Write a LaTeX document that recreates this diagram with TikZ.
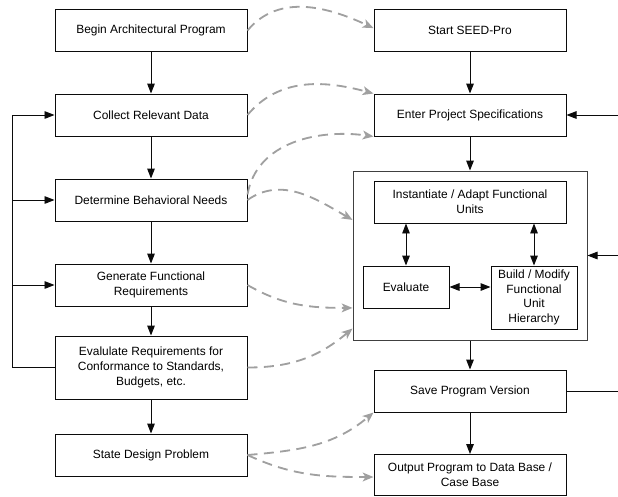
\documentclass[tikz,border=0pt]{standalone}
\usepackage{fontspec}
\setmainfont{Liberation Sans}
\usetikzlibrary{positioning,calc,arrows.meta}
\definecolor{cgray}{HTML}{A0A0A0}
\definecolor{cink}{HTML}{0B0B0B}

\begin{document}
\begin{tikzpicture}[x=0.25mm,y=0.25mm,
    box/.style={draw=cink,line width=0.7pt,minimum width=48mm,minimum height=10.5mm,
      align=center,inner sep=1pt,font=\fontsize{8.5}{10.4}\selectfont},
    tallbox/.style={box,minimum height=15.75mm},
    smallbox/.style={box,minimum width=21.5mm},
    flow/.style={-{Triangle[length=2.5mm,width=1.9mm]},cink,line width=0.7pt},
    both/.style={{Triangle[length=2.5mm,width=1.9mm]}-{Triangle[length=2.5mm,width=1.9mm]},cink,line width=0.7pt},
    link/.style={-{Stealth[length=2.7mm,width=2.2mm,inset=0.7mm]},cgray,line width=1.3pt,
      dash pattern=on 2.5mm off 1.6mm}]
        \useasboundingbox (0,0) rectangle (618,-496);
        % left column: the architect's process
        \node[box] (begin) at (151,-30.5) {Begin Architectural Program};
        \node[box] (collect) at (151,-115) {Collect Relevant Data};
        \node[box] (determine) at (151,-200) {Determine Behavioral Needs};
        \node[box] (generate) at (151,-285) {Generate Functional\\Requirements};
        \node[tallbox] (evalreq) at (151,-367.5) {Evalulate Requirements for\\Conformance to Standards,\\Budgets, etc.};
        \node[box] (state) at (151,-455) {State Design Problem};
        % right column: the tool
        \node[box] (start) at (470,-30.5) {Start SEED-Pro};
        \node[box] (enter) at (470,-115) {Enter Project Specifications};
        \node[draw=black!75,line width=0.7pt,minimum width=58.5mm,minimum height=42.25mm] (unit) at (470,-255.5) {};
        \node[box] (inst) at (470,-202) {Instantiate / Adapt Functional\\Units};
        \node[smallbox] (eval) at (406,-287) {Evaluate};
        \node[smallbox,minimum height=15.75mm] (build) at (534,-297.5) {Build / Modify\\Functional\\Unit\\Hierarchy};
        \node[box] (save) at (470,-391) {Save Program Version};
        \node[box,minimum height=10.25mm] (output) at (470,-475) {Output Program to Data Base /\\Case Base};
        \coordinate (fb) at (12,-367.5);
        \coordinate (rt) at (618,-255.5);

        % main flow
        \draw[flow] (begin) -- (collect);
        \draw[flow] (collect) -- (determine);
        \draw[flow] (determine) -- (generate);
        \draw[flow] (generate) -- (evalreq);
        \draw[flow] (evalreq) -- (state);
        \draw[flow] (start) -- (enter);
        \draw[flow] (enter) -- (unit);
        \draw[flow] (unit) -- (save);
        \draw[flow] (save) -- (output);
        \draw[both] (eval.north) -- (eval.north |- inst.south);
        \draw[both] (build.north) -- (build.north |- inst.south);
        \draw[both] (eval.east) -- (eval.east -| build.west);

        % feedback loops
        \draw[flow] (evalreq.west) -- (fb) |- (collect.west);
        \draw[flow] (fb |- determine.west) -- (determine.west);
        \draw[flow] (fb |- generate.west) -- (generate.west);
        \draw[cink,line width=0.7pt] (save.east) -- (rt |- save.east);
        \draw[flow] (rt) -- (unit.east);
        \draw[flow] (rt |- enter.east) -- (enter.east);

        % correspondence between the two processes
        \draw[link] (begin.east) to[out=50,in=155] ([yshift=0.6mm]start.west);
        \draw[link] (collect.east) to[out=50,in=165] (enter.north west);
        \draw[link] ([yshift=-4mm]determine.north east) to[out=80,in=172] (enter.south west);
        \draw[link] (determine.east) to[out=35,in=150] ([yshift=8.9mm]unit.west);
        \draw[link] (generate.east) to[out=-30,in=180] ([yshift=-13.1mm]unit.west);
        \draw[link] (evalreq.east) to[out=0,in=-140] ([yshift=3mm]unit.south west);
        \draw[link] (state.east) to[out=5,in=-140] (save.south west);
        \draw[link] (state.east) to[out=-25,in=180] ([yshift=-0.5mm]output.west);
      \end{tikzpicture}
\end{document}
